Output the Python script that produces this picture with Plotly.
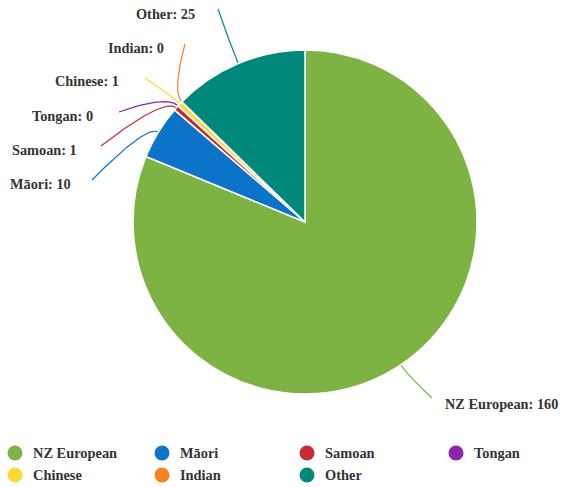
import numpy as np
import plotly.graph_objects as go

# Ethnicity counts
categories = ["NZ European", "Māori", "Samoan", "Tongan", "Chinese", "Indian", "Other"]
counts = [160, 10, 1, 0, 1, 0, 25]
colors = ["#7cb342", "#0b74c9", "#c62a34", "#8e24aa", "#fdd835", "#f5821f", "#00897b"]

W, H = 562, 487
CX, CY, R = 305, 222, 172          # pie centre / radius in pixels
FONT = "Liberation Serif, Times New Roman, serif"
TXT = "#333333"

# label placement (pixel coords): text anchor point, connector end, bend distance
label_style = {
    "NZ European": dict(tx=443, ty=404, side="left", end=(432, 398), bend=12),
    "Māori":       dict(tx=73,  ty=184, side="right", end=(92, 180), bend=14),
    "Samoan":      dict(tx=79,  ty=150, side="right", end=(101, 146), bend=16),
    "Tongan":      dict(tx=95,  ty=116, side="right", end=(119, 112), bend=16),
    "Chinese":     dict(tx=121, ty=81,  side="right", end=(145, 78), bend=12),
    "Indian":      dict(tx=166, ty=48,  side="right", end=(185, 44), bend=14),
    "Other":       dict(tx=197, ty=14,  side="right", end=(218, 9), bend=18),
}

total = sum(counts)
cum = np.concatenate([[0], np.cumsum(counts)])
mid_angle = (cum[:-1] + np.array(counts) / 2) / total * 2 * np.pi  # clockwise from 12 o'clock

fig = go.Figure()

fig.add_trace(go.Pie(
    labels=categories, values=counts, sort=False, direction="clockwise", rotation=0,
    marker=dict(colors=colors, line=dict(color="white", width=1.5)),
    textinfo="none", hoverinfo="label+value", showlegend=False,
    domain=dict(x=[(CX - R) / W, (CX + R) / W], y=[(H - CY - R) / H, (H - CY + R) / H]),
))

annotations = []
for cat, val, ang, col in zip(categories, counts, mid_angle, colors):
    st = label_style[cat]
    dx, dy = np.sin(ang), -np.cos(ang)
    p0 = np.array([CX + R * dx, CY + R * dy])
    p1 = p0 + st["bend"] * np.array([dx, dy])
    p2 = np.array(st["end"], dtype=float)
    t = np.linspace(0, 1, 30)[:, None]
    pts = (1 - t) ** 2 * p0 + 2 * (1 - t) * t * p1 + t ** 2 * p2
    fig.add_trace(go.Scatter(
        x=pts[:, 0], y=pts[:, 1], mode="lines", line=dict(color=col, width=1.2),
        hoverinfo="skip", showlegend=False, xaxis="x", yaxis="y",
    ))
    annotations.append(dict(
        x=st["tx"], y=st["ty"], xref="x", yref="y", showarrow=False,
        text=f"<b>{cat}: {val}</b>", xanchor=st["side"], yanchor="middle",
        font=dict(family=FONT, size=14.3, color=TXT),
    ))

# legend: four columns, two rows
leg_x = [15, 162, 307, 456]
leg_y = [453, 475]
mx, my = [], []
for i, cat in enumerate(categories):
    x = leg_x[i % 4]
    y = leg_y[i // 4]
    mx.append(x)
    my.append(y)
    annotations.append(dict(
        x=x + 16, y=y, xref="x", yref="y", showarrow=False,
        text=f"<b>{cat}</b>", xanchor="left", yanchor="middle",
        font=dict(family=FONT, size=14.4, color=TXT),
    ))
fig.add_trace(go.Scatter(
    x=mx, y=my, mode="markers", marker=dict(size=15, color=colors, symbol="circle"),
    hoverinfo="skip", showlegend=False, xaxis="x", yaxis="y",
))

fig.update_layout(
    width=W, height=H, margin=dict(l=0, r=0, t=0, b=0, pad=0),
    paper_bgcolor="white", plot_bgcolor="rgba(0,0,0,0)",
    xaxis=dict(range=[0, W], visible=False, fixedrange=True, domain=[0, 1]),
    yaxis=dict(range=[H, 0], visible=False, fixedrange=True, domain=[0, 1]),
    annotations=annotations, showlegend=False,
)

fig.write_html("out.html")
